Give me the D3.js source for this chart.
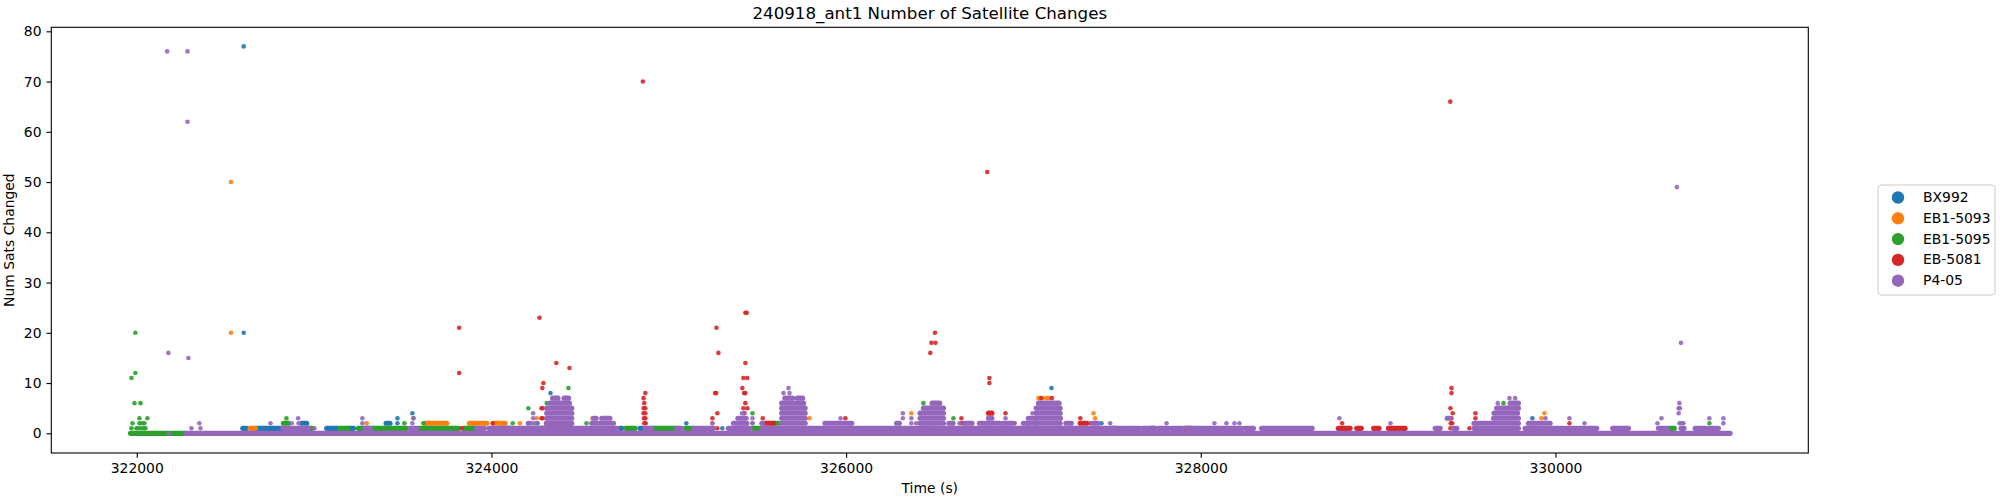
<!DOCTYPE html>
<html><head><meta charset="utf-8">
<script src="https://cdn.jsdelivr.net/npm/d3@7/dist/d3.min.js"></script>
<style>html,body{margin:0;padding:0;background:#fff}svg{display:block}text{font-family:"DejaVu Sans",sans-serif;fill:#000}</style>
</head><body><svg id="c" width="2000" height="500"></svg>
<script>
const seriesNames = ["BX992","EB1-5093","EB1-5095","EB-5081","P4-05"];
const seriesColors = ["#1f77b4","#ff7f0e","#2ca02c","#d62728","#9467bd"];
const xTicks = [322000,324000,326000,328000,330000];
const yTicks = [0,10,20,30,40,50,60,70,80];
// runs: [time start, time end, num sats] - unbroken rows of overlapping samples
const bxRuns = [[322598,322620,1],[322673,322818,1],[323071,323137,1],[323193,323222,1],[322930,322958,2],[323406,323428,2],[324240,324300,1],[324725,324735,1],[324838,324850,1],[324904,324923,1]];
const bxPoints = [[322603,77],[322603,20],[323470,2],[323470,3],[323554,4],[324333,8],[324425,7],[324436,6],[324260,2],[325099,2],[325302,1],[327158,9],[326300,2],[326530,6],[325700,7],[325740,6],[327440,2],[329870,3],[329560,2]];
const o93Runs = [[322639,322669,1],[323626,323748,2],[323876,323973,2],[324011,324077,2]];
const o93Points = [[322531,50],[322531,20],[323297,2],[324255,3],[324160,2],[324570,3],[325246,2],[325793,3],[326368,4],[327085,7],[327095,7],[327125,7],[327140,7],[327395,4],[327404,3],[329921,3],[329938,4],[325650,5],[326450,5]];
const g95Runs = [[321965,322278,0],[322827,322855,2],[322950,322990,1],[323146,323193,1],[323250,323400,1],[323410,323522,1],[323588,323729,1],[323738,323813,1],[323842,323908,1],[324050,324110,1],[324757,324810,1],[324923,325045,1],[325092,325139,1],[325477,325524,1],[325590,325618,2],[330630,330680,0],[330640,330670,1]];
const g95Points = [[321992,20],[321970,11],[321992,12],[321987,6],[322021,6],[322015,3],[322060,3],[321976,2],[322015,2],[322030,2],[322043,2],[321970,1],[321998,1],[322010,1],[322025,1],[322040,1],[322049,1],[322844,3],[323509,2],[323560,3],[323616,2],[324208,5],[324434,9],[324312,6],[324120,2],[324536,2],[325472,4],[325405,3],[325472,2],[326436,6],[326605,3],[326605,2],[325759,5],[327117,6],[327203,6],[329707,6],[330868,2]];
const r81Runs = [[324310,324450,2],[325543,325590,2],[327320,327357,2],[327500,327520,1],[327720,327740,1],[327910,327950,1],[328776,328842,1],[328880,328905,1],[328975,329005,1],[329058,329152,1],[326803,326822,4]];
const r81Points = [[324854,70],[323818,21],[323818,12],[324271,23],[324293,10],[324287,9],[324366,14],[324440,13],[324282,5],[324290,5],[324282,3],[324290,3],[323831,1],[324007,2],[324868,8],[324858,7],[324862,6],[324858,5],[324868,5],[324858,4],[324868,4],[324868,3],[324860,3],[324862,2],[324870,2],[325269,21],[325280,16],[325261,8],[325268,8],[325274,4],[325246,3],[325274,1],[325432,24],[325440,24],[325432,14],[325421,11],[325443,11],[325415,9],[325425,8],[325432,8],[325432,6],[325421,5],[325443,5],[325427,4],[325432,3],[325436,2],[325415,2],[325530,3],[325996,3],[326481,18],[326504,18],[326475,16],[326501,20],[326650,3],[326650,2],[326660,2],[326796,52],[326808,11],[326808,10],[326899,4],[326890,2],[326950,2],[327102,7],[327160,7],[327321,3],[327269,2],[327380,2],[327210,3],[328797,2],[329407,66],[329414,9],[329414,8],[329408,5],[329421,4],[329414,3],[329418,2],[329410,2],[329408,1],[329515,1],[329549,4],[329549,3],[329546,2],[329885,2],[330079,2]];
const p05Runs = [[322278,330985,0],[322823,322968,1],[323287,323316,1],[323541,323579,1],[323917,323960,1],[323985,324707,1],[324866,324904,1],[325045,325073,1],[325139,325252,1],[325336,325458,1],[325524,327470,1],[327480,327592,1],[327602,327658,1],[327673,327742,1],[327762,327818,1],[327833,327895,1],[327918,328006,1],[328015,328231,1],[328251,328297,1],[328343,328628,1],[329322,329350,1],[329425,329444,1],[329541,329791,1],[329829,330045,1],[330060,330124,1],[330135,330233,1],[330323,330412,1],[330581,330628,1],[330708,330725,1],[330788,330844,1],[330859,330919,1],
[324208,324214,2],[324312,324453,2],[324312,324453,3],[324312,324453,4],[324312,324453,5],[324330,324440,6],[324345,324375,7],[324410,324435,7],[324566,324688,2],[324576,324590,3],[324622,324668,3],[325365,325440,2],[325390,325425,3],[325525,325530,2],[325637,325769,2],[325637,325769,3],[325637,325769,4],[325637,325769,5],[325637,325760,6],[325655,325695,7],[325725,325755,7],[325881,326032,2],[326285,326300,2],[326417,326549,2],[326417,326549,3],[326417,326549,4],[326436,326549,5],[326485,326525,6],[326580,326600,2],[326670,326710,2],[326752,326771,2],[326784,326868,2],[326803,326822,3],[326887,326940,2],[327000,327030,2],[327030,327072,2],[327028,327066,3],[327072,327207,2],[327072,327207,3],[327072,327207,4],[327072,327207,5],[327085,327110,6],[327125,327198,6],[327240,327270,2],[327390,327420,2],[329390,329406,3],[329541,329791,2],[329651,329791,3],[329654,329786,4],[329669,329791,5],[329745,329791,6],[329848,329970,2]];
const p05Points = [[322171,76],[322286,76],[322286,62],[322178,16],[322291,15],[322182,0],[322308,1],[322353,2],[322359,1],[322754,2],[322874,2],[322912,2],[322910,3],[323002,1],[323272,3],[323272,2],[323554,2],[323560,3],[324235,3],[324235,4],[324232,2],[324248,2],[324590,3],[325246,2],[325413,4],[325425,4],[325472,3],[325472,2],[325439,3],[325647,8],[325675,9],[325681,8],[325969,3],[326030,2],[326018,2],[326320,4],[326320,3],[326368,3],[326368,2],[326395,2],[326460,2],[326600,2],[326640,2],[326899,3],[327051,4],[327489,2],[327807,2],[328077,2],[328145,2],[328190,2],[328218,2],[328782,3],[329070,2],[329675,6],[329741,7],[329773,7],[329944,3],[330164,2],[330079,3],[330575,2],[330598,3],[330685,49],[330708,18],[330699,6],[330695,5],[330702,5],[330695,4],[330700,2],[330711,2],[330722,2],[330712,1],[330868,3],[330947,3],[330947,2]];
const xDomain = [321518,331426];
const yDomain = [-3.92,80.8];

const W=2000,H=500,m={l:51.3,r:1808.3,t:27.3,b:453};
const x=d3.scaleLinear().domain(xDomain).range([m.l,m.r]);
const y=d3.scaleLinear().domain(yDomain).range([m.b,m.t]);
const svg=d3.select("#c");
const allRuns=[bxRuns,o93Runs,g95Runs,r81Runs,p05Runs], allPts=[bxPoints,o93Points,g95Points,r81Points,p05Points];
const plot=svg.append("g");
seriesNames.forEach((n,i)=>{
  const g=plot.append("g").attr("fill",seriesColors[i]).attr("stroke",seriesColors[i]);
  g.selectAll("line").data(allRuns[i]).join("line")
    .attr("x1",d=>x(d[0])).attr("x2",d=>x(d[1])).attr("y1",d=>y(d[2])).attr("y2",d=>y(d[2]))
    .attr("stroke-width",5.2).attr("stroke-linecap","round");
  g.selectAll("circle").data(allPts[i]).join("circle")
    .attr("cx",d=>x(d[0])).attr("cy",d=>y(d[1])).attr("r",2.3).attr("stroke","none").attr("opacity",0.9);
});
const ax=svg.append("g").attr("transform",`translate(0,${m.b})`).call(d3.axisBottom(x).tickValues(xTicks).tickFormat(d3.format("d")).tickSize(4.86).tickPadding(4.9));
const ay=svg.append("g").attr("transform",`translate(${m.l},0)`).call(d3.axisLeft(y).tickValues(yTicks).tickSize(4.86).tickPadding(4.9));
[ax,ay].forEach(a=>{a.select(".domain").remove();a.selectAll("line").attr("stroke","#000").attr("stroke-width",1.1);a.selectAll("text").style("font-size","13.9px").style("font-family","DejaVu Sans");});
svg.append("rect").attr("x",m.l).attr("y",m.t).attr("width",m.r-m.l).attr("height",m.b-m.t).attr("fill","none").attr("stroke","#000").attr("stroke-width",1.1);
svg.append("text").attr("x",(m.l+m.r)/2).attr("y",m.t-8.3).attr("text-anchor","middle").style("font-size","16.67px").text("240918_ant1 Number of Satellite Changes");
svg.append("text").attr("x",(m.l+m.r)/2).attr("y",493).attr("text-anchor","middle").style("font-size","13.9px").text("Time (s)");
svg.append("text").attr("transform",`translate(14,${(m.t+m.b)/2}) rotate(-90)`).attr("text-anchor","middle").style("font-size","13.9px").text("Num Sats Changed");
const lx=1878,ly=185;
svg.append("rect").attr("x",lx).attr("y",ly).attr("width",117).attr("height",110).attr("rx",3).attr("fill","#fff").attr("stroke","#ccc").attr("stroke-width",1);
seriesNames.forEach((n,i)=>{
  const yy=ly+12+i*20.8;
  svg.append("circle").attr("cx",lx+20).attr("cy",yy+0.5).attr("r",6.2).attr("fill",seriesColors[i]);
  svg.append("text").attr("x",lx+45).attr("y",yy+5).style("font-size","13.9px").text(n);
});
</script></body></html>
